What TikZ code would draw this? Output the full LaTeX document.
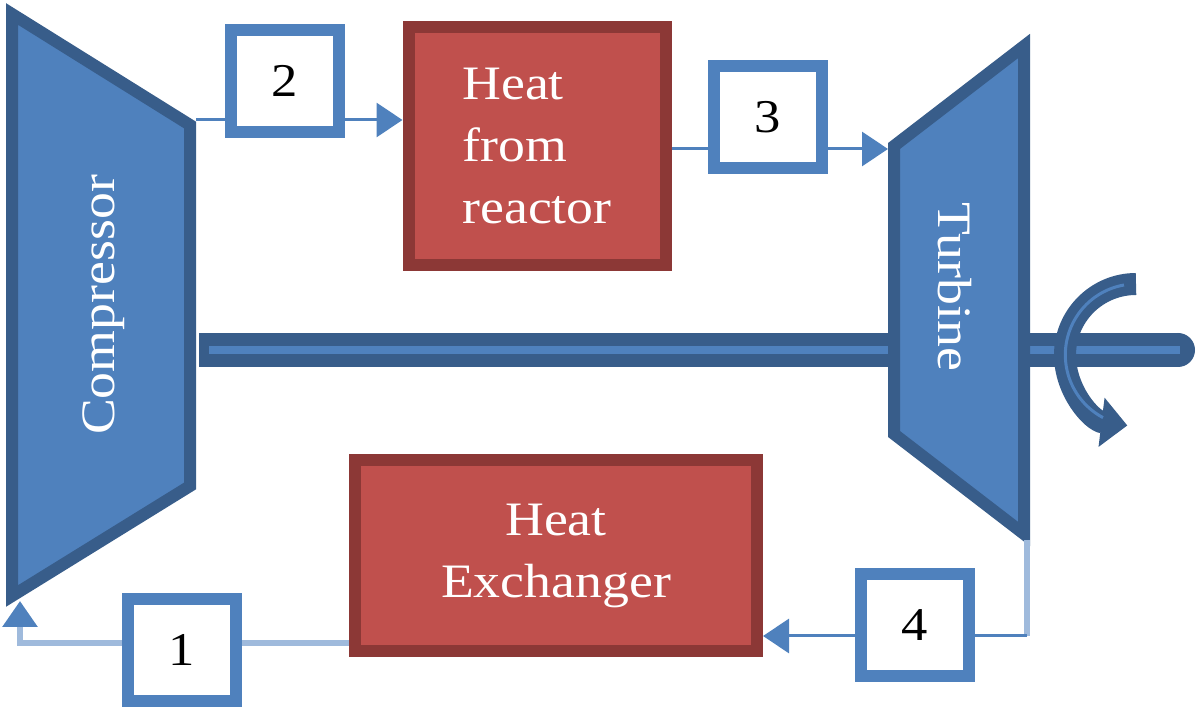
\documentclass[tikz,border=0pt]{standalone}
\usepackage{fontspec}
\setmainfont{Liberation Serif}[FakeStretch=1.12]
\usetikzlibrary{positioning,arrows.meta}
\definecolor{blueFill}{HTML}{4F81BD}
\definecolor{blueDark}{HTML}{385D8A}
\definecolor{blueLight}{HTML}{9FBADC}
\definecolor{redFill}{HTML}{C0504D}
\definecolor{redDark}{HTML}{8C3836}

\begin{document}
\begin{tikzpicture}[x=0.5pt, y=-0.5pt, >={Triangle[length=13pt,width=17pt]},
    machine/.style={fill=blueFill, draw=blueDark, line width=6pt},
    heatbox/.style={draw=redDark, fill=redFill, line width=6pt, text=white,
        font=\fontsize{24pt}{31pt}\selectfont},
    statebox/.style={draw=blueFill, fill=white, line width=6pt, minimum width=54pt,
        minimum height=51pt, font=\fontsize{23.5pt}{28pt}\selectfont},
    label/.style={text=white, font=\fontsize{24pt}{28pt}\selectfont},
    flow/.style={draw=blueFill, line width=1.5pt},
    flowlight/.style={draw=blueLight, line width=3pt}]
        \useasboundingbox (0,0) rectangle (1200,710);

        % Shaft
        \draw[blueDark, line width=17pt] (199,350) coordinate (shaftL) -- (1178,350) coordinate (shaftR);
        \fill[blueDark] (shaftR) circle (8.5pt);
        \draw[blueFill, line width=4pt] (209,350) -- (1180,350);

        % Compressor and turbine
        \draw[machine] (12,14) coordinate (c-tl) -- (190,125) coordinate (c-tr)
            -- (190,486) coordinate (c-br) -- (12,596) coordinate (c-bl) -- cycle;
        \draw[machine] (894,146) coordinate (t-tl) -- (1024,46) coordinate (t-tr)
            -- (1024,534) coordinate (t-br) -- (894,434) coordinate (t-bl) -- cycle;
        \node[label, rotate=90] (comp) at (104,305) {Compressor};
        \node[label, rotate=-90] (turb) at (955,287) {Turbine};

        % Rotation arrow
        \draw[blueDark, line width=11pt, -{Triangle[length=13pt,width=24pt]}]
            (1136,284) coordinate (spin) arc[start angle=270, end angle=97, x radius=71, y radius=71];
        \draw[blueFill, line width=1.5pt]
            (1124,285) arc[start angle=260, end angle=118, x radius=71, y radius=71];

        % Nodes
        \node[heatbox, minimum width=128.5pt, minimum height=119pt, align=left] (reactor) at (537,146) {Heat\\from\\reactor};
        \node[heatbox, minimum width=201pt, minimum height=95.5pt, align=center] (hx) at (556,556) {Heat\\Exchanger};
        \node[statebox] (box1) at (182,650) {1};
        \node[statebox] (box2) at (285,81) {2};
        \node[statebox] (box3) at (768,117) {3};
        \node[statebox] (box4) at (915,625) {4};

        % Flow lines
        \coordinate (in2) at (196,120);
        \draw[flow] (in2) -- (in2 -| box2.west);
        \draw[flow, ->] (box2.east |- in2) -- (in2 -| reactor.west);

        \coordinate (in3) at (888,149);
        \draw[flow] (in3 -| reactor.east) -- (in3 -| box3.west);
        \draw[flow, ->] (box3.east |- in3) -- (in3);

        \coordinate (tout) at (1027,540);
        \coordinate (out4) at (1027,636);
        \draw[flowlight] (tout) -- (out4);
        \draw[flow] (out4) -- (out4 -| box4.east);
        \draw[flow, ->] (box4.west |- out4) -- (out4 -| hx.east);

        \coordinate (ret) at (20,643);
        \coordinate (cin) at (20,601);
        \draw[flowlight] (ret -| hx.west) -- (ret -| box1.east);
        \draw[flowlight, -{Triangle[length=13pt,width=17pt,color=blueFill]}]
            (box1.west |- ret) -- (ret) -- (cin);
\end{tikzpicture}
\end{document}
